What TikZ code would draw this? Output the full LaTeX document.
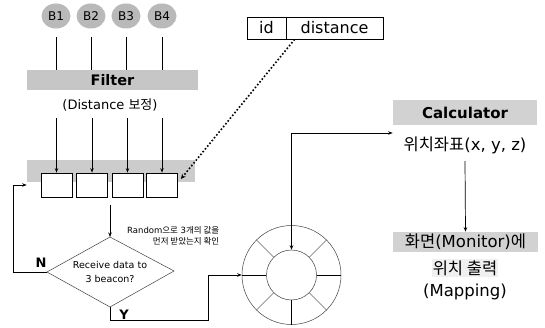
\documentclass[tikz,border=0pt]{standalone}
\usepackage{fontspec}
\setmainfont{DejaVu Sans}
\newfontfamily\kr{Noto Sans CJK KR}
\usetikzlibrary{shapes.geometric,arrows.meta}
\newcommand{\fs}[1]{\fontsize{#1}{#1}\selectfont}
\begin{document}
\begin{tikzpicture}[x=1pt,y=-1pt,
  line width=0.7pt,
  arr/.style={-{Stealth[length=4.5pt,width=3.5pt]}},
  beacon/.style={ellipse,fill=gray!55,minimum width=29pt,minimum height=25pt,inner sep=0pt,font=\fs{12}},
  grayband/.style={fill=gray!45,inner sep=0pt},
  cell/.style={draw,fill=white,minimum width=31pt,minimum height=24pt,inner sep=0pt},
  tcell/.style={draw,minimum height=22pt,inner sep=0pt,font=\fs{16}},
  big/.style={font=\fs{16.5}},
  yn/.style={font=\bfseries\fs{13}},
  thinline/.style={draw=black!75,line width=0.5pt}]
\useasboundingbox (0,0) rectangle (545,328);

% beacons
\foreach \i/\x in {1/56,2/91,3/126,4/162}{
  \node[beacon] (b\i) at (\x,16) {B\i};
}
% filter
\node[grayband,minimum width=171pt,minimum height=20pt,font=\bfseries\fs{14.5}] (filter) at (112.5,80) {Filter};
\node[font=\fs{13}] (dist) at (110,105) {(Distance {\kr 보정})};
\foreach \i in {1,...,4}{
  \draw ([yshift=-8pt]b\i.south) -- (b\i.south |- filter.north);
}
% buffer
\node[grayband,fill=gray!40,minimum width=168pt,minimum height=22pt] (buf) at (111,171) {};
\node[cell] (c1) at (56.5,185) {};
\node[cell] (c2) at (92,185) {};
\node[cell] (c3) at (127.5,185) {};
\node[cell] (c4) at (162,185) {};
\foreach \i in {1,...,4}{
  \draw[arr] (c\i |- 0,118) -- (c\i.north);
}
% table
\node[tcell,minimum width=39pt] (tid) at (266.5,28) {id};
\node[tcell,minimum width=97pt] (tdist) at (334.5,28) {distance};
\draw[dotted,line width=1.6pt,-{Stealth[length=5pt,width=4.5pt]}] ([xshift=9pt]tdist.south west) -- ([xshift=3pt,yshift=6pt]c4.east);

% decision
\coordinate (dtop) at (110,205);
\coordinate (dN) at (110,237);
\coordinate (dE) at (174,271);
\coordinate (dS) at (110,307);
\coordinate (dW) at (47,272);
\draw[thinline] (dN) -- (dE) -- (dS) -- (dW) -- cycle;
\node[align=center,font=\fs{9.5}] (dec) at (110,272) {Receive data to\\[5pt]3 beacon?};
\draw[arr] (dtop) -- (dN);
\node[align=right,anchor=east,font=\fs{8.5}] (note) at (223,236) {Random{\kr 으로} 3{\kr 개의 값을}\\[3pt]{\kr 먼저 받았는지 확인}};
\draw[arr] (dW) -- ++(-34,0) |- (buf.west |- c1);
\node[yn] (nlab) at (41,263) {N};
\node[yn] (ylab) at (124,315) {Y};

% ring
\node[circle,thinline,minimum size=99pt,inner sep=0pt] (ring) at (291.5,275) {};
\node[circle,thinline,minimum size=50pt,inner sep=0pt] (hub) at (291.5,275) {};
\foreach \a in {0,180,270}{
  \draw (hub.\a) -- (ring.\a);
}
\foreach \a in {45,135,225,315}{
  \draw[draw=black!60,line width=0.4pt] (hub.\a) -- (ring.\a);
}
\coordinate (ybend) at (208,320);
\draw[arr] (dS) |- (ybend) |- (ring.west);

% calculator
\node[grayband,fill=gray!35,minimum width=144pt,minimum height=25pt,font=\bfseries\fs{15}] (calc) at (465,112.5) {\raisebox{-3pt}[9pt][2pt]{Calculator}};
\coordinate (up) at (291.5,133);
\draw[arr] (up) -- (hub.north);
\draw[arr] (up) -- (calc.west |- up);
\node[big] (coord) at (465,145) {{\kr 위치좌표}(x, y, z)};
\node[grayband,fill=gray!35,minimum width=145pt,minimum height=20pt,big] (mon) at (465.5,242) {{\kr 화면}(Monitor){\kr 에}};
\draw[arr] ([yshift=-4pt]coord.south) -- (mon.north);
\node[big,fill=gray!12,inner sep=1pt] (pos) at (465,268) {{\kr 위치 출력}};
\node[big] (map) at (465,292) {(Mapping)};
\end{tikzpicture}
\end{document}
